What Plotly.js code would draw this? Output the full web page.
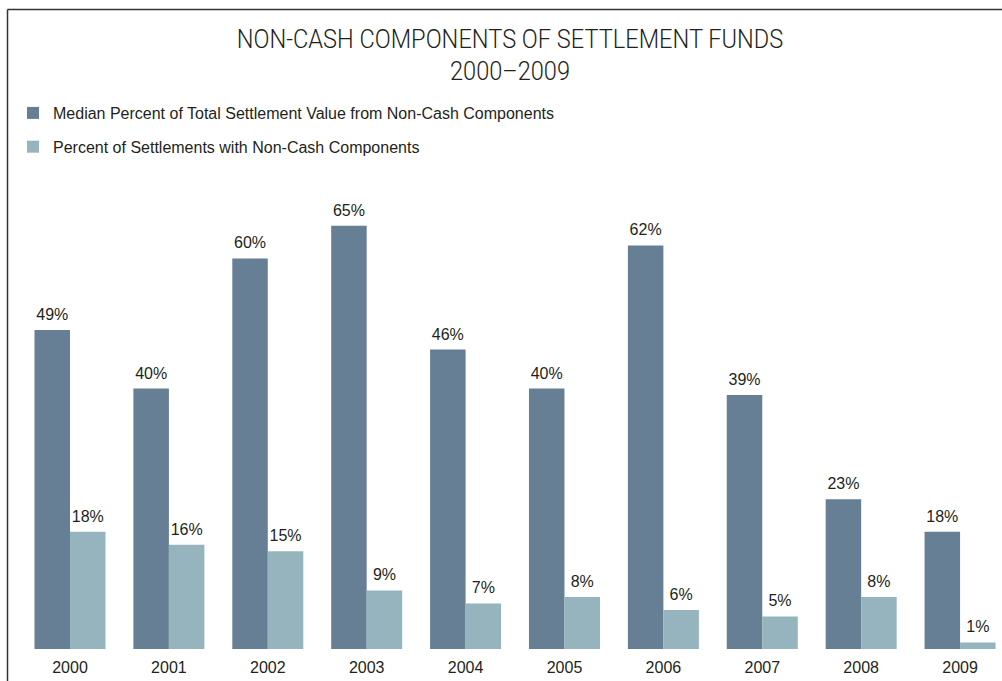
<!DOCTYPE html>
<html>
<head>
<meta charset="utf-8">
<script src="https://cdn.plot.ly/plotly-3.0.1.min.js"></script>
<style>html,body{margin:0;padding:0;background:#fff;}#chart{width:1002px;height:681px;}</style>
</head>
<body>
<div id="chart"></div>
<script>
const years = ["2000","2001","2002","2003","2004","2005","2006","2007","2008","2009"];
const medianPct = [49, 40, 60, 65, 46, 40, 62, 39, 23, 18];
const settlementsPct = [18, 16, 15, 9, 7, 8, 6, 5, 8, 1];
const seriesNames = ["Median Percent of Total Settlement Value from Non-Cash Components",
                     "Percent of Settlements with Non-Cash Components"];
const titleText = "NON-CASH COMPONENTS OF SETTLEMENT FUNDS<br>2000\u20132009";

const textFont = {family: "Liberation Sans, Arial, sans-serif", size: 16, color: "#231f20"};

const traces = [
  {
    type: "bar", name: seriesNames[0], x: years, y: medianPct,
    marker: {color: "#667f95"},
    text: medianPct.map(v => v + "%"), textposition: "outside", textfont: textFont,
    cliponaxis: false, hoverinfo: "skip", legendgroup: "a"
  },
  {
    type: "bar", name: seriesNames[1], x: years, y: settlementsPct,
    marker: {color: "#95b4be"},
    text: settlementsPct.map(v => v + "%"), textposition: "outside", textfont: textFont,
    cliponaxis: false, hoverinfo: "skip", legendgroup: "b"
  }
];

const L = 20, B = 32, T = 180, W = 1002, H = 681;
const plotH = H - T - B;
const px2paperX = p => (p - L) / (W - L);
const px2paperY = p => (H - B - p) / plotH;

const layout = {
  width: W, height: H,
  margin: {l: L, r: 0, t: T, b: B, pad: 0},
  paper_bgcolor: "#ffffff", plot_bgcolor: "#ffffff",
  barmode: "group", bargap: 0.282, bargroupgap: 0,
  uniformtext: {mode: false},
  title: {
    text: titleText,
    font: {family: "Roboto, Liberation Sans, sans-serif", weight: 300, size: 25, color: "#231f20"},
    x: px2paperX(510), xanchor: "center", xref: "paper",
    y: 1 - 48 / H, yanchor: "top", yref: "container"
  },
  showlegend: true,
  legend: {
    x: px2paperX(13), xanchor: "left",
    y: px2paperY(96), yanchor: "top",
    orientation: "v", font: textFont, bgcolor: "rgba(0,0,0,0)",
    tracegroupgap: 10, traceorder: "grouped"
  },
  xaxis: {
    type: "category", range: [-0.5056, 9.424], showgrid: false, zeroline: false,
    showline: false, ticks: "", tickfont: textFont, ticklabelstandoff: 7, fixedrange: true
  },
  yaxis: {
    range: [0, plotH / 6.51], visible: false, showgrid: false, zeroline: false, fixedrange: true
  },
  shapes: [
    {type: "line", xref: "paper", yref: "paper", x0: px2paperX(7.5), x1: px2paperX(7.5),
     y0: px2paperY(9.5), y1: px2paperY(H + 5), line: {color: "#333333", width: 1.5}},
    {type: "line", xref: "paper", yref: "paper", x0: px2paperX(7.5), x1: px2paperX(W + 5),
     y0: px2paperY(9.5), y1: px2paperY(9.5), line: {color: "#333333", width: 1.5}}
  ]
};

Plotly.newPlot("chart", traces, layout, {displayModeBar: false, staticPlot: true}).then(gd => {
  // condense the title horizontally, like the reference's condensed face
  const t = gd.querySelector(".gtitle");
  if (t) {
    const bb = t.getBBox();
    const s = Math.min(1, 547 / bb.width);
    const cx = bb.x + bb.width / 2;
    t.setAttribute("transform", `translate(${cx},0) scale(${s},1) translate(${-cx},0)`);
  }
  // a little more room between value labels and bar tops, as in the reference
  gd.querySelectorAll("text.bartext").forEach(el => {
    const prev = el.getAttribute("transform") || "";
    el.setAttribute("transform", `translate(0,-4) ${prev}`);
  });
});
</script>
</body>
</html>
